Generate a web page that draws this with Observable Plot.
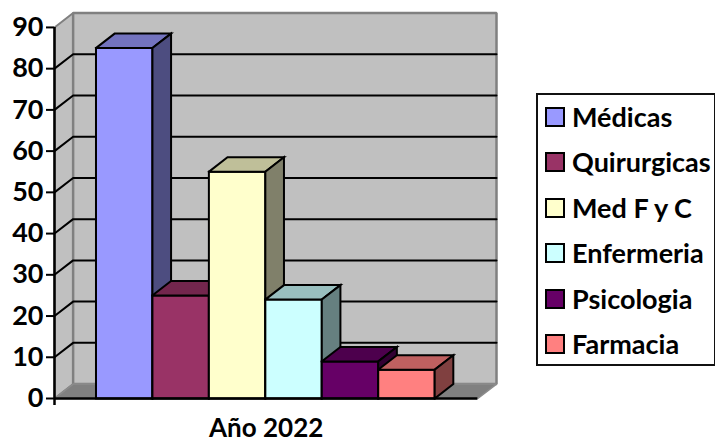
<!DOCTYPE html>
<html lang="es">
<head>
<meta charset="utf-8">
<title>Año 2022</title>
<script src="https://cdn.jsdelivr.net/npm/d3@7"></script>
<script src="https://cdn.jsdelivr.net/npm/@observablehq/plot@0.6"></script>
<style>
html,body{margin:0;padding:0;background:#fff;overflow:hidden;width:715px;height:443px}
#wrap{position:relative;width:715px;height:443px;overflow:hidden;font-family:Lato,sans-serif;font-weight:700;color:#000}
#legend{position:absolute;left:536px;top:93px;width:180px;height:273px;box-sizing:border-box;border:2px solid #111;background:#fff}
.row{position:absolute;left:7px;height:24px;display:flex;align-items:center;font-size:27px;line-height:24px;white-space:nowrap}
.sw{display:inline-block;width:16px;height:16px;border:2px solid #000;margin-right:7px;flex:none}
</style>
</head>
<body>
<div id="wrap"></div>
<script>
const categories = ["Médicas","Quirurgicas","Med F y C","Enfermeria","Psicologia","Farmacia"];
const values = [85,25,55,24,9,7];
const frontColors = ["#9999ff","#993366","#ffffcc","#ccffff","#660066","#ff8080"];
const topColors = ["#7373bf","#73264d","#bfbf99","#99bfbf","#4d004d","#bf6060"];
const sideColors = ["#4d4d80","#4d1a33","#80806a","#668080","#330033","#804040"];
const yTicks = [0,10,20,30,40,50,60,70,80,90];
const gridValues = [10,20,30,40,50,60,70,80];
const xLabel = "Año 2022";

// depth of the 3-D box, and category band, in data units
const depthX = 0.33, depthY = 3.5, bandEnd = 7.5, barStart = 0.735, yMax = 90;

const faces = [];
const poly = (id, fill, pts) => pts.forEach(([x,y]) => faces.push({id, fill, x, y}));
values.forEach((v,i) => {
  const a = barStart + i, b = a + 1;
  poly("f"+i, frontColors[i], [[a,0],[b,0],[b,v],[a,v],[a,0]]);
  poly("t"+i, topColors[i], [[a,v],[b,v],[b+depthX,v+depthY],[a+depthX,v+depthY],[a,v]]);
  poly("s"+i, sideColors[i], [[b,0],[b+depthX,depthY],[b+depthX,v+depthY],[b,v],[b,0]]);
});

const wall = [
  {x:depthX,y:depthY},{x:bandEnd+depthX,y:depthY},{x:bandEnd+depthX,y:yMax+depthY},{x:depthX,y:yMax+depthY},{x:depthX,y:depthY}
];
const leftWall = [{x:0,y:0},{x:depthX,y:depthY},{x:depthX,y:yMax+depthY},{x:0,y:yMax},{x:0,y:0}];
const floor = [{x:0,y:0},{x:bandEnd,y:0},{x:bandEnd+depthX,y:depthY},{x:depthX,y:depthY},{x:0,y:0}];
const gridPts = gridValues.flatMap(v => [
  {v,x:0,y:v},{v,x:depthX,y:v+depthY},{v,x:bandEnd+depthX,y:v+depthY}
]);

const chart = Plot.plot({
  width:715, height:443,
  marginLeft:54, marginRight:219, marginTop:12.5, marginBottom:45,
  style:{background:"#fff",overflow:"visible",fontFamily:"Lato,sans-serif"},
  x:{type:"linear",domain:[0,bandEnd+depthX],axis:null},
  y:{type:"linear",domain:[0,yMax+depthY],axis:null},
  marks:[
    Plot.line(leftWall,{x:"x",y:"y",fill:"#c0c0c0",stroke:"#808080",strokeWidth:2}),
    Plot.line(wall,{x:"x",y:"y",fill:"#c0c0c0",stroke:"#808080",strokeWidth:2.5,strokeLinejoin:"miter"}),
    Plot.line(floor,{x:"x",y:"y",fill:"#808080",stroke:"#8c8c8c",strokeWidth:1.5,strokeLinejoin:"miter"}),
    Plot.line(gridPts,{x:"x",y:"y",z:"v",stroke:"#000",strokeWidth:2,strokeLinejoin:"miter"}),
    Plot.line(faces,{x:"x",y:"y",z:"id",fill:"fill",stroke:"#000",strokeWidth:2,strokeLinejoin:"miter",strokeLinecap:"square",strokeMiterlimit:10}),
    Plot.ruleY([0],{x1:0,x2:bandEnd,stroke:"#000",strokeWidth:2.5}),
    Plot.ruleX([0],{y1:-1.7,y2:yMax,stroke:"#000",strokeWidth:2.5}),
    Plot.axisY(yTicks,{anchor:"left",tickSize:8,tickPadding:3,label:null,strokeWidth:2,stroke:"#000",fontSize:27,fontWeight:700,tickFormat:d=>String(d)}),
    Plot.text([xLabel],{x:()=>bandEnd/2,y:()=>0,dy:30,text:d=>d,fontSize:26,fontWeight:700,fill:"#000"})
  ]
});
const wrap = document.getElementById("wrap");
wrap.appendChild(chart);

const legend = document.createElement("div");
legend.id = "legend";
categories.forEach((c,i) => {
  const r = document.createElement("div");
  r.className = "row";
  r.style.top = (10 + i*45.4) + "px";
  const s = document.createElement("span");
  s.className = "sw"; s.style.background = frontColors[i];
  const t = document.createElement("span");
  t.textContent = c;
  r.append(s,t);
  legend.appendChild(r);
});
wrap.appendChild(legend);
</script>
</body>
</html>
